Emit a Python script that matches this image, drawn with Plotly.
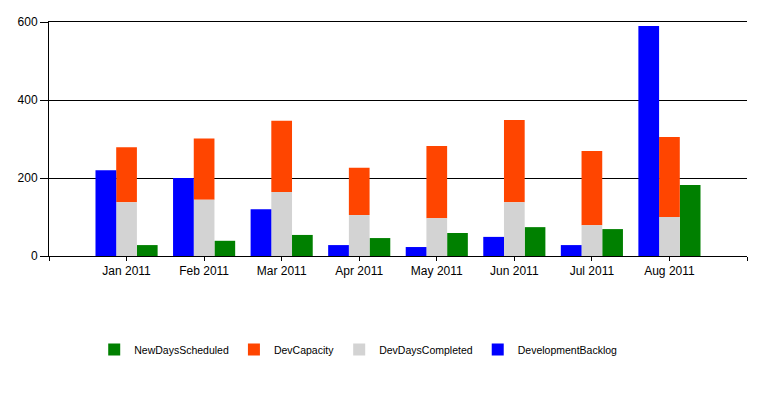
import plotly.graph_objects as go

months = ["Jan 2011", "Feb 2011", "Mar 2011", "Apr 2011", "May 2011", "Jun 2011", "Jul 2011", "Aug 2011"]
development_backlog = [220, 200, 120, 28, 23, 49, 28, 590]
dev_days_completed = [138, 144, 164, 105, 97, 138, 79, 100]
dev_capacity = [141, 157, 183, 121, 185, 211, 190, 205]
new_days_scheduled = [28, 39, 54, 46, 59, 74, 69, 182]

x = list(range(len(months)))
w = 0.267
font = "Liberation Sans, Arial, sans-serif"

fig = go.Figure()
fig.add_trace(go.Bar(name="NewDaysScheduled", x=x, y=new_days_scheduled, width=w, offset=w / 2,
                     marker=dict(color="#008000", line=dict(width=0))))
fig.add_trace(go.Bar(name="DevCapacity", x=x, y=dev_capacity, base=dev_days_completed, width=w, offset=-w / 2,
                     marker=dict(color="#FF4500", line=dict(width=0))))
fig.add_trace(go.Bar(name="DevDaysCompleted", x=x, y=dev_days_completed, width=w, offset=-w / 2,
                     marker=dict(color="#D3D3D3", line=dict(width=0))))
fig.add_trace(go.Bar(name="DevelopmentBacklog", x=x, y=development_backlog, width=w, offset=-1.5 * w,
                     marker=dict(color="#0000FF", line=dict(width=0))))

tickvals = [-1] + x + [len(months)]
ticktext = [""] + months + [""]

fig.update_layout(
    width=771, height=401,
    margin=dict(l=41, r=32, t=14, b=153),
    paper_bgcolor="white", plot_bgcolor="white",
    barmode="overlay",
    font=dict(family=font, size=12, color="black"),
    showlegend=True,
    legend=dict(orientation="h", x=0.443, xanchor="center", y=-0.40, yanchor="middle",
                font=dict(family=font, size=10.5, color="black"), traceorder="normal"),
    xaxis=dict(range=[-1, len(months)], tickmode="array", tickvals=tickvals, ticktext=ticktext,
               showgrid=False, zeroline=False, showline=True, linecolor="black", linewidth=1,
               mirror=True, automargin=False,
               ticks="outside", ticklen=4, tickcolor="black", tickfont=dict(size=12)),
    yaxis=dict(range=[0, 600], tickvals=[0, 200, 400, 600], showgrid=True, gridcolor="black",
               gridwidth=1, zeroline=False, showline=True, linecolor="black", linewidth=1,
               automargin=False,
               ticks="outside", ticklen=8, tickcolor="black", tickfont=dict(size=12)),
)

fig.write_html("out.html")
